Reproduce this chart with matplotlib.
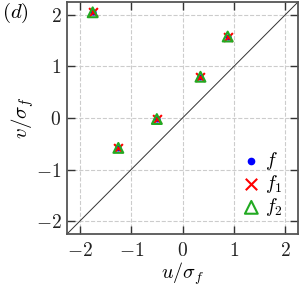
import matplotlib
matplotlib.use("Agg")
import matplotlib.pyplot as plt
import numpy as np

plt.rcParams['mathtext.fontset'] = 'cm'
plt.rcParams['font.family'] = 'serif'
plt.rcParams['font.serif'] = ['DejaVu Serif']

u = [-1.75, -1.25, -0.5, 0.35, 0.88]
v = [2.05, -0.58, -0.02, 0.80, 1.58]
ticks = [-2, -1, 0, 1, 2]

fig = plt.figure(figsize=(3.03, 2.86), dpi=100)
ax = fig.add_axes([67/303, 52/286, 231/303, 232/286])

ax.plot([-2.25, 2.25], [-2.25, 2.25], color='#333333', lw=0.7, zorder=1)
ax.scatter(u, v, marker='o', color='blue', s=12, zorder=3, label='$f$')
ax.scatter(u, v, marker='x', color='red', s=40, linewidths=1.5, zorder=4, label='$f_1$')
ax.scatter(u, v, marker='^', facecolors='none', edgecolors='#22aa22', s=50, linewidths=1.5, zorder=5, label='$f_2$')

ax.set_xlim(-2.25, 2.25)
ax.set_ylim(-2.25, 2.25)
ax.set_xticks(ticks)
ax.set_yticks(ticks)
ax.set_xticklabels([f'${t}$' for t in ticks], fontsize=14)
ax.set_yticklabels([f'${t}$' for t in ticks], fontsize=14)
ax.tick_params(direction='in', top=True, right=True, length=6, width=1.0, colors='#333333', labelcolor='#222222', pad=4)
ax.tick_params(axis='x', pad=6)
for s in ax.spines.values():
    s.set_color('#555555')
    s.set_linewidth(1.3)
ax.grid(True, linestyle='--', color='#cccccc', lw=0.8)
ax.set_axisbelow(True)
ax.set_xlabel(r'$u/\sigma_f$', fontsize=14.5, labelpad=0)
ax.set_ylabel(r'$v/\sigma_f$', fontsize=15, labelpad=0)

leg = ax.legend(loc='lower right', frameon=False, fontsize=14, handletextpad=0.2,
                handlelength=1.0, labelspacing=0.05, borderaxespad=0.4, markerscale=1.3)
fig.text(2/303, 1 - 13/286, '$(d)$', fontsize=15, va='center', ha='left')

fig.savefig('out.png', dpi=100)
